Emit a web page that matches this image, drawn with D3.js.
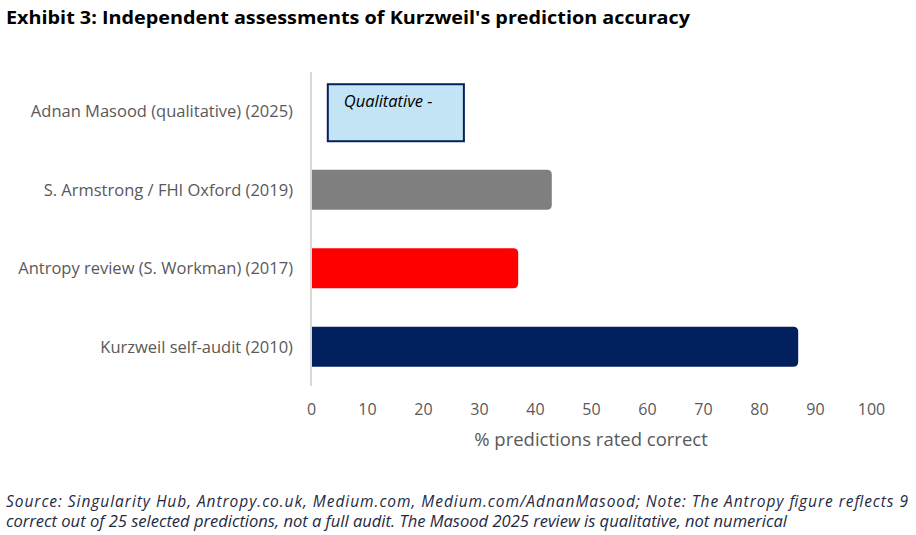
<!DOCTYPE html>
<html>
<head>
<meta charset="utf-8">
<title>Exhibit 3</title>
<script src="https://cdn.jsdelivr.net/npm/d3@7"></script>
<style>
  body { margin: 0; background: #fff; }
  text { font-family: 'Open Sans', sans-serif; }
</style>
</head>
<body>
<svg id="svg" width="916" height="535"></svg>
<script>
// data, top to bottom
var categories = ['Adnan Masood (qualitative) (2025)', 'S. Armstrong / FHI Oxford (2019)',
                  'Antropy review (S. Workman) (2017)', 'Kurzweil self-audit (2010)'];
var values = [null, 43, 37, 87];
var colors = [null, '#7f7f7f', '#ff0000', '#03205e'];
var ticks = [0, 10, 20, 30, 40, 50, 60, 70, 80, 90, 100];
// the Masood row is a text box, not a number
var noteSpan = [3, 27.3];
var noteText = 'Qualitative -';

var svg = d3.select('#svg');

var x = d3.scaleLinear().domain([0, 100]).range([311, 871]);
var y = d3.scaleBand().domain(categories).range([72, 386]).paddingInner(0.49).paddingOuter(0.245);

svg.append('text')
    .attr('x', 6).attr('y', 24)
    .attr('font-size', 18).attr('font-weight', 'bold').attr('fill', '#000')
    .attr('textLength', 684).attr('lengthAdjust', 'spacingAndGlyphs')
    .text("Exhibit 3: Independent assessments of Kurzweil's prediction accuracy");

// bars, rounded on the right end only
function barPath(x0, x1, y0, h, r){
    return 'M' + x0 + ',' + y0 + 'H' + (x1 - r) + 'Q' + x1 + ',' + y0 + ' ' + x1 + ',' + (y0 + r)
         + 'V' + (y0 + h - r) + 'Q' + x1 + ',' + (y0 + h) + ' ' + (x1 - r) + ',' + (y0 + h)
         + 'H' + x0 + 'Z';
}

var bars = categories.map(function(c, i){ return {cat: c, v: values[i], col: colors[i]}; })
    .filter(function(d){ return d.v !== null; });

svg.selectAll('path.bar').data(bars).enter().append('path')
    .attr('class', 'bar')
    .attr('fill', function(d){ return d.col; })
    .attr('d', function(d){ return barPath(x(0), x(d.v), y(d.cat), y.bandwidth(), 5); });

// qualitative note box
var noteY = y(categories[0]);
svg.append('rect')
    .attr('x', x(noteSpan[0])).attr('y', noteY - 7)
    .attr('width', x(noteSpan[1]) - x(noteSpan[0])).attr('height', 57)
    .attr('fill', '#c3e4f4').attr('stroke', '#03205e').attr('stroke-width', 2);
svg.append('text')
    .attr('x', x(noteSpan[0]) + 16).attr('y', noteY + 16)
    .attr('font-size', 16.5).attr('font-style', 'italic').attr('fill', '#000')
    .text(noteText);

// vertical axis line
svg.append('line')
    .attr('x1', x(0)).attr('x2', x(0)).attr('y1', 72).attr('y2', 386)
    .attr('stroke', '#d9d9d9').attr('stroke-width', 2);

// category labels
svg.selectAll('text.cat').data(categories).enter().append('text')
    .attr('class', 'cat')
    .attr('x', 293)
    .attr('y', function(d){ return y(d) + y.bandwidth() / 2 + 6; })
    .attr('text-anchor', 'end')
    .attr('font-size', 16.5).attr('fill', '#595959')
    .text(function(d){ return d; });

// x axis
var xAxis = svg.append('g')
    .attr('transform', 'translate(0,386)')
    .call(d3.axisBottom(x).tickValues(ticks).tickSize(0).tickPadding(18));
xAxis.select('.domain').remove();
xAxis.selectAll('text')
    .attr('font-family', "'Open Sans', sans-serif")
    .attr('font-size', 16).attr('fill', '#595959');

svg.append('text')
    .attr('x', x(50)).attr('y', 446)
    .attr('text-anchor', 'middle')
    .attr('font-size', 18.5).attr('fill', '#595959')
    .text('% predictions rated correct');

// source note
var src = svg.append('g').attr('font-size', 15.5).attr('font-style', 'italic').attr('fill', '#1f2a44');
src.append('text').attr('x', 6).attr('y', 507)
    .attr('textLength', 902).attr('lengthAdjust', 'spacing')
    .text('Source: Singularity Hub, Antropy.co.uk, Medium.com, Medium.com/AdnanMasood; Note: The Antropy figure reflects 9');
src.append('text').attr('x', 6).attr('y', 527)
    .attr('textLength', 781).attr('lengthAdjust', 'spacingAndGlyphs')
    .text('correct out of 25 selected predictions, not a full audit. The Masood 2025 review is qualitative, not numerical');
</script>
</body>
</html>
